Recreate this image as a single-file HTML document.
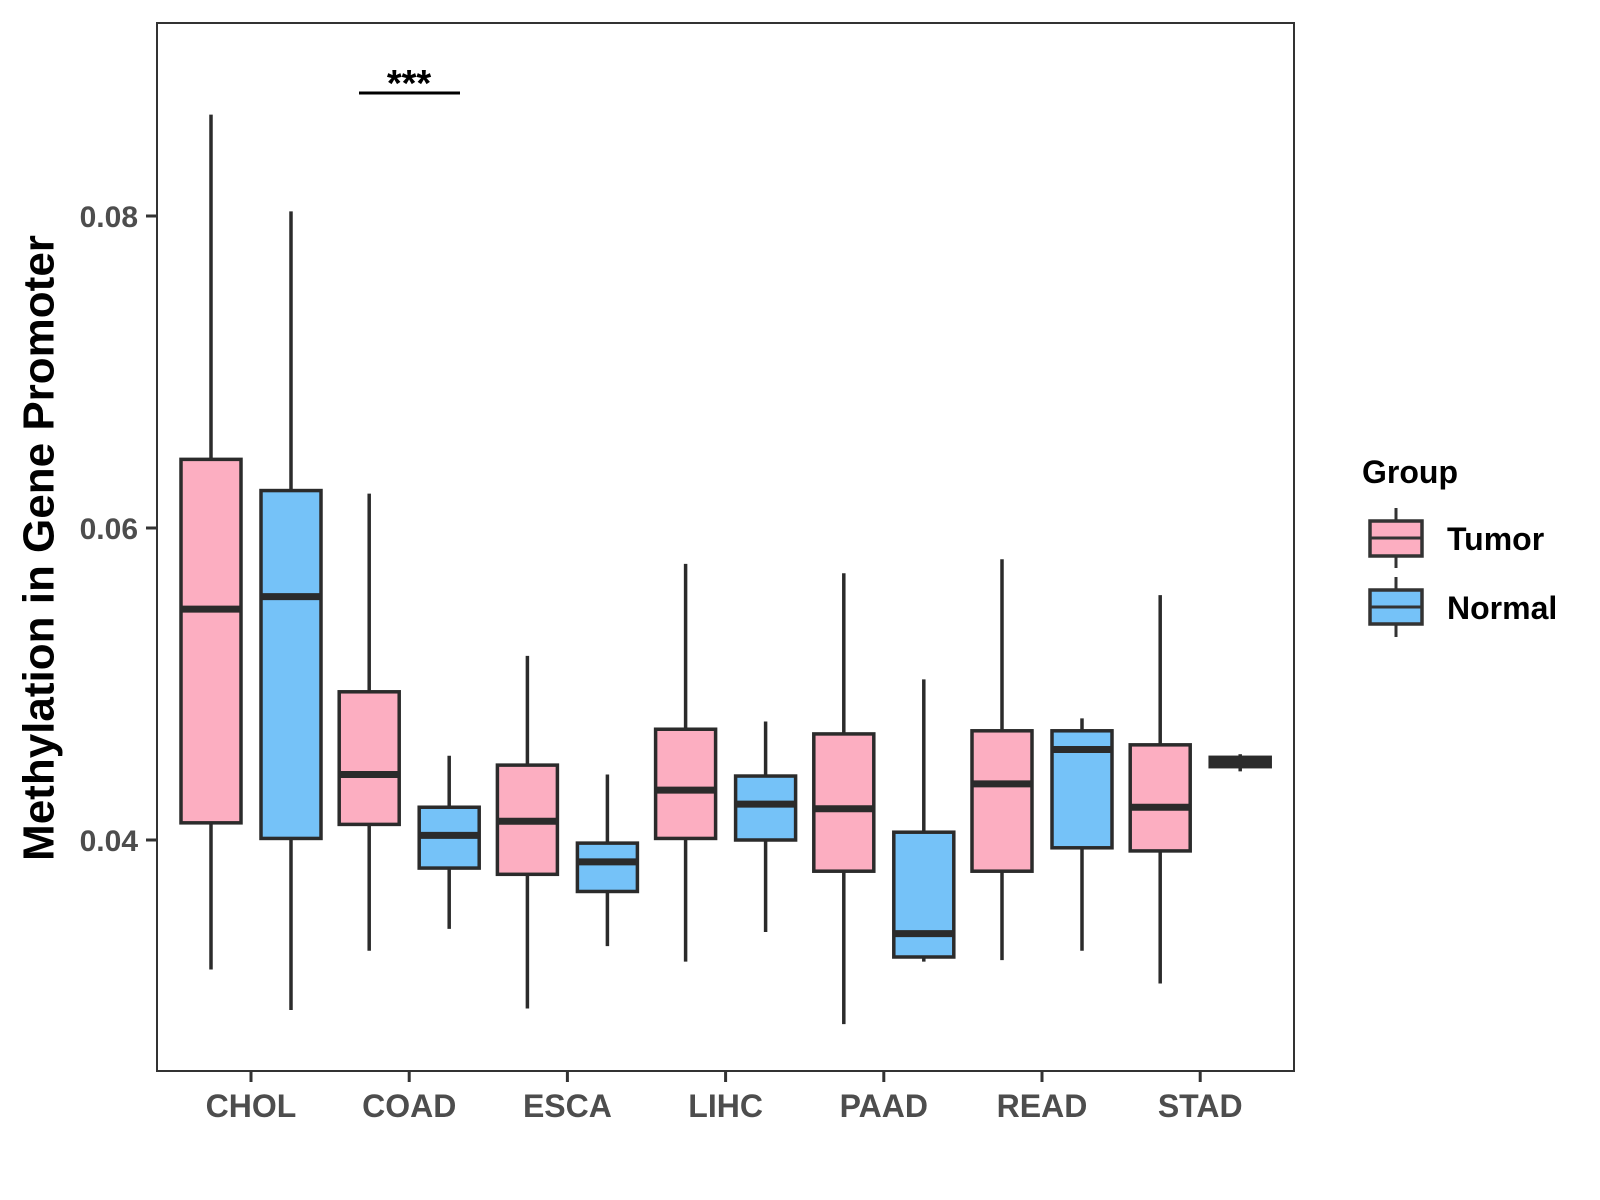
<!DOCTYPE html>
<html><head><meta charset="utf-8"><style>body{margin:0;background:#fff}svg{display:block;font-family:"Liberation Sans",Arial,sans-serif}</style></head>
<body>
<svg id="chart" width="1600" height="1200" viewBox="0 0 1600 1200">
<rect x="0" y="0" width="1600" height="1200" fill="#fff"/>
<g id="marks"></g>
<rect x="157" y="23" width="1137" height="1048" fill="none" stroke="#333" stroke-width="2"/>
<g id="axes"></g>
<text x="39" y="548" transform="rotate(-90 39 548)" text-anchor="middle" dominant-baseline="central" font-size="44" font-weight="bold" fill="#000">Methylation in Gene Promoter</text>
<line x1="359" y1="93" x2="460" y2="93" stroke="#000" stroke-width="3"/>
<text x="409" y="96" text-anchor="middle" font-size="38" font-weight="bold">***</text>
<g>
<text x="1362" y="483" font-size="32" font-weight="bold">Group</text>
<g>
<line x1="1396" y1="508" x2="1396" y2="568" stroke="#333" stroke-width="3"/>
<rect x="1370" y="521" width="52" height="35" fill="#fcaec1" stroke="#333" stroke-width="3.5"/>
<line x1="1370" y1="538" x2="1422" y2="538" stroke="#333" stroke-width="3"/>
<text x="1447" y="550" font-size="32" font-weight="bold">Tumor</text></g>
<g>
<line x1="1396" y1="577" x2="1396" y2="637" stroke="#333" stroke-width="3"/>
<rect x="1370" y="590" width="52" height="34" fill="#75c2f8" stroke="#333" stroke-width="3.5"/>
<line x1="1370" y1="607" x2="1422" y2="607" stroke="#333" stroke-width="3"/>
<text x="1447" y="619" font-size="32" font-weight="bold">Normal</text></g>
</g>
</svg>
<script>
const categories = ["CHOL","COAD","ESCA","LIHC","PAAD","READ","STAD"];
const yTicks = [0.04, 0.06, 0.08];
const tumorMin = [0.0317,0.0329,0.0292,0.0322,0.0282,0.0323,0.0308];
const tumorQ1 = [0.0411,0.0410,0.0378,0.0401,0.0380,0.0380,0.0393];
const tumorMed = [0.0548,0.0442,0.0412,0.0432,0.0420,0.0436,0.0421];
const tumorQ3 = [0.0644,0.0495,0.0448,0.0471,0.0468,0.0470,0.0461];
const tumorMax = [0.0865,0.0622,0.0518,0.0577,0.0571,0.0580,0.0557];
const normalMin = [0.0291,0.0343,0.0332,0.0341,0.0322,0.0329,0.0444];
const normalQ1 = [0.0401,0.0382,0.0367,0.0400,0.0325,0.0395,0.0447];
const normalMed = [0.0556,0.0403,0.0386,0.0423,0.0340,0.0458,0.0450];
const normalQ3 = [0.0624,0.0421,0.0398,0.0441,0.0405,0.0470,0.0453];
const normalMax = [0.0803,0.0454,0.0442,0.0476,0.0503,0.0478,0.0455];

const SVGNS="http://www.w3.org/2000/svg";
function sy(v){return 840-(Number(v)-0.04)/0.02*312;}
function sx(i){return 251+i*158.2;}
function mk(tag,attrs,parent){const e=document.createElementNS(SVGNS,tag);for(const k in attrs)e.setAttribute(k,String(attrs[k]));parent.appendChild(e);return e;}
const marksG=document.getElementById('marks'), axesG=document.getElementById('axes');
const series=[{n:'tumor',c:'#fcaec1',off:-40,mn:tumorMin,q1:tumorQ1,md:tumorMed,q3:tumorQ3,mx:tumorMax},
{n:'normal',c:'#75c2f8',off:40,mn:normalMin,q1:normalQ1,md:normalMed,q3:normalQ3,mx:normalMax}];
for(let i=0;i<categories.length;i++){
 const cat=categories[i];
 for(const s of series){
  const cx=sx(i)+s.off, hw=30;
  const top=sy(s.q3[i]), bot=sy(s.q1[i]);
  const G=mk('g',{},marksG);
  
  
  mk('line',{x1:cx,x2:cx,y1:sy(s.mx[i]),y2:sy(s.mn[i]),stroke:'#2b2b2b','stroke-width':3.5},G);
  mk('rect',{x:cx-hw,y:top,width:2*hw,height:Math.max(1,bot-top),fill:s.c,stroke:'#2b2b2b','stroke-width':3.5},G);
  mk('line',{x1:cx-hw,x2:cx+hw,y1:sy(s.md[i]),y2:sy(s.md[i]),stroke:'#2b2b2b','stroke-width':7},G);
 }
 const t=mk('line',{x1:sx(i),x2:sx(i),y1:1071,y2:1082,stroke:'#333','stroke-width':3},axesG);
 
 
 const l=mk('text',{x:sx(i),y:1117,'text-anchor':'middle','font-size':32,'font-weight':'bold',fill:'#4d4d4d'},axesG);
 l.textContent=cat;
 
 
}
for(const v of yTicks){
 const t=mk('line',{x1:146,x2:157,y1:sy(v),y2:sy(v),stroke:'#333','stroke-width':3},axesG);
 
 
 const l=mk('text',{x:138,y:sy(v)+11,'text-anchor':'end','font-size':30,'font-weight':'bold',fill:'#4d4d4d'},axesG);
 l.textContent=v.toFixed(2);
 
 
}
</script>
</body></html>
